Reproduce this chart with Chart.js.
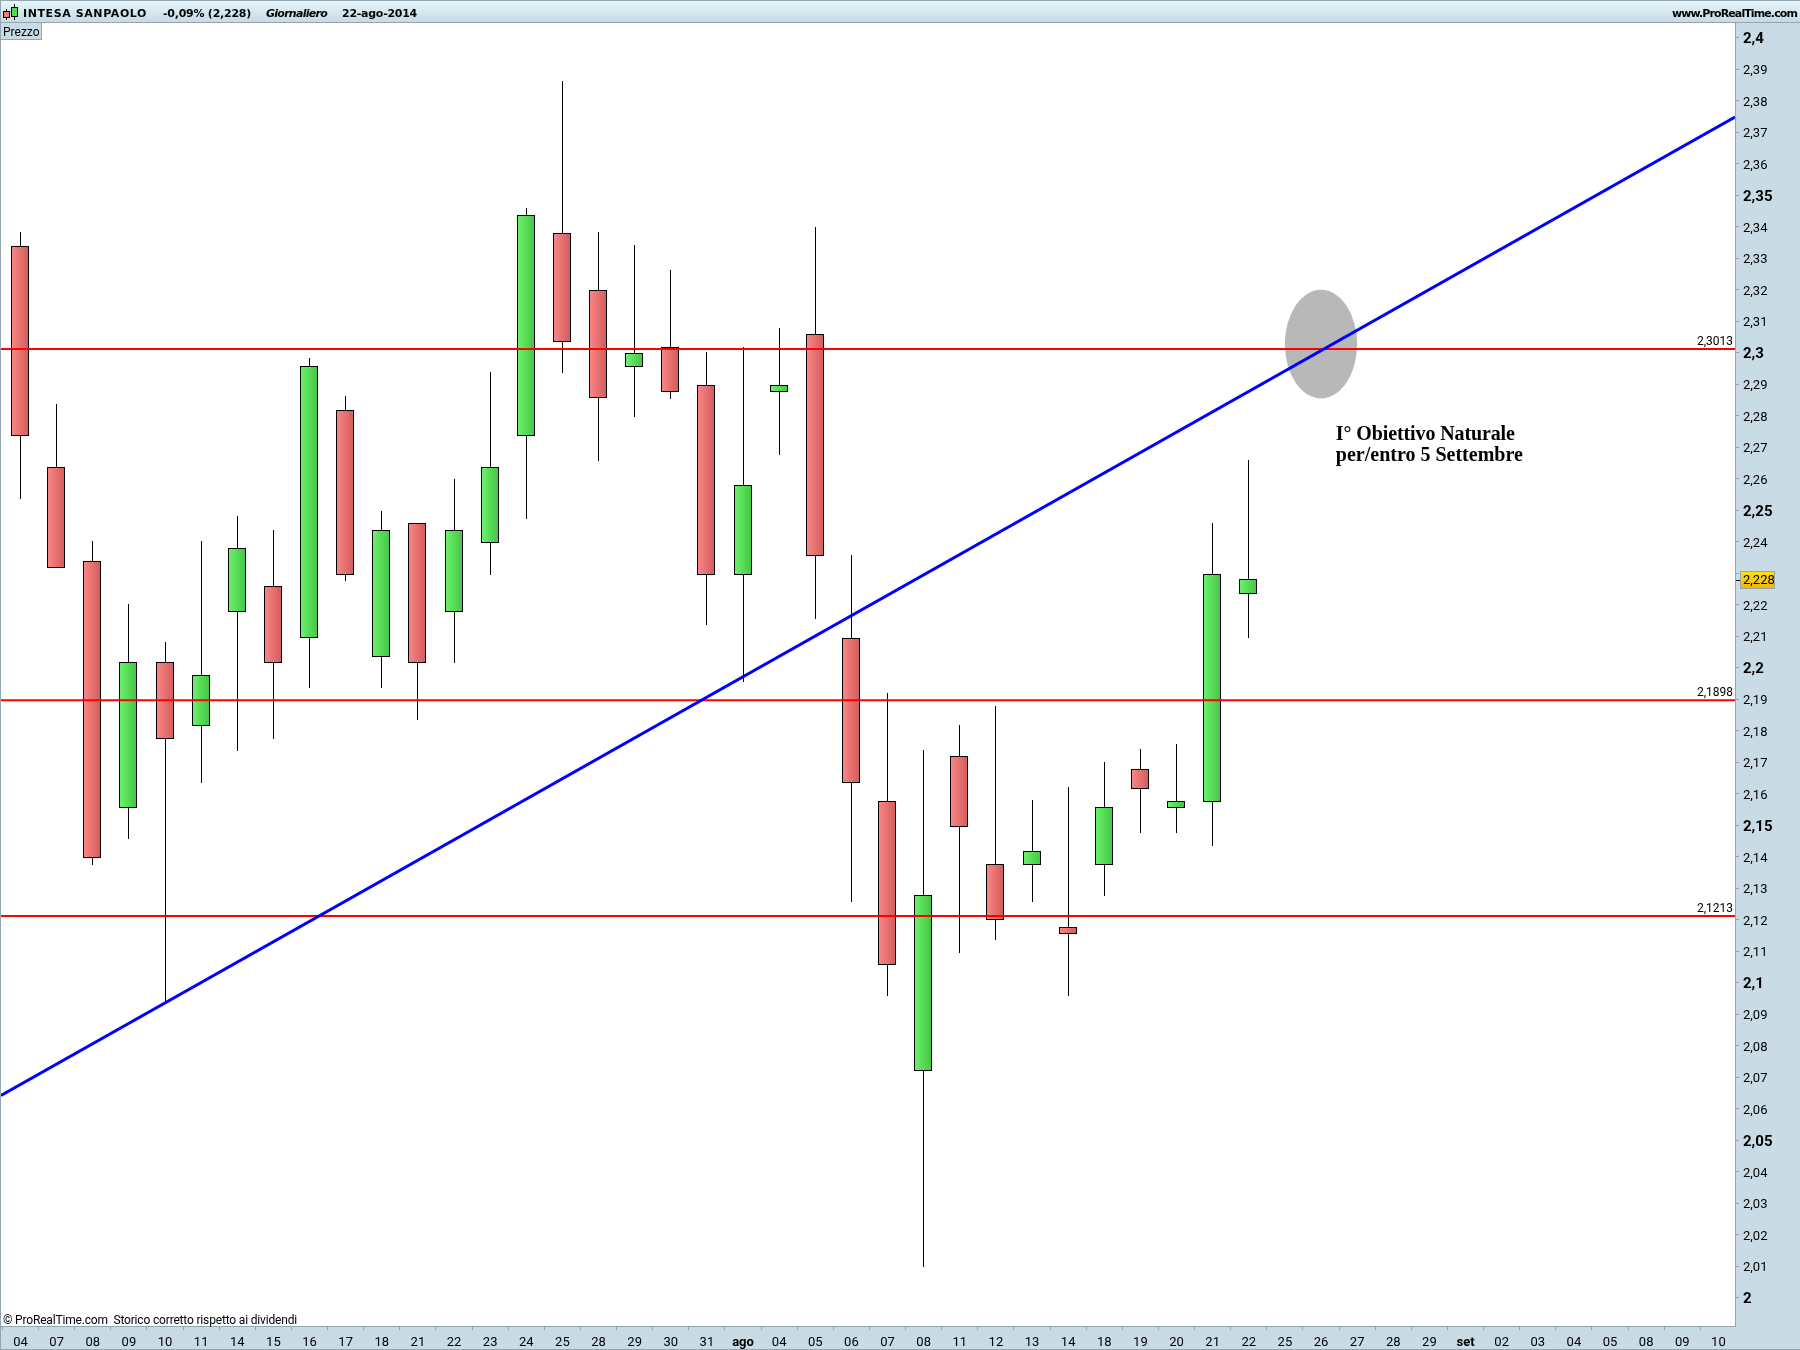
<!DOCTYPE html>
<html>
<head>
<meta charset="utf-8">
<title>INTESA SANPAOLO</title>
<script src="https://cdn.jsdelivr.net/npm/chart.js@4"></script>
<style>
  html, body { margin: 0; padding: 0; background: #fff; }
  canvas { display: block; }
</style>
</head>
<body>
<canvas id="price-chart" width="1800" height="1350"></canvas>
<script>
const dateLabels = ["04", "07", "08", "09", "10", "11", "14", "15", "16", "17", "18", "21", "22", "23", "24", "25", "28", "29", "30", "31", "ago", "04", "05", "06", "07", "08", "11", "12", "13", "14", "18", "19", "20", "21", "22", "25", "26", "27", "28", "29", "set", "02", "03", "04", "05", "08", "09", "10"];
const boldDates = ["ago", "set"];

const opens = [2.3339, 2.2637, 2.2338, 2.1557, 2.2017, 2.1818, 2.2179, 2.2258, 2.2098, 2.2817, 2.2036, 2.2459, 2.2178, 2.2397, 2.2738, 2.338, 2.3198, 2.2956, 2.3017, 2.2896, 2.2296, 2.2877, 2.3058, 2.2095, 2.1576, 2.0721, 2.1719, 2.1376, 2.1376, 2.1177, 2.1376, 2.1679, 2.1557, 2.1575, 2.2236];
const closes = [2.2738, 2.232, 2.1398, 2.2017, 2.1777, 2.1976, 2.238, 2.2017, 2.2958, 2.2297, 2.2436, 2.2017, 2.2436, 2.2636, 2.3437, 2.3036, 2.2859, 2.2999, 2.2877, 2.2296, 2.2579, 2.2896, 2.2356, 2.1636, 2.1059, 2.1279, 2.1497, 2.12, 2.1418, 2.1158, 2.1558, 2.1616, 2.1577, 2.2297, 2.228];
const highs = [2.3381, 2.2838, 2.2401, 2.22, 2.208, 2.2401, 2.248, 2.2438, 2.2981, 2.2861, 2.2498, 2.2459, 2.2599, 2.2939, 2.346, 2.3861, 2.3381, 2.334, 2.3261, 2.3, 2.3018, 2.3079, 2.3399, 2.2357, 2.192, 2.1739, 2.1819, 2.1879, 2.1578, 2.162, 2.1699, 2.174, 2.1758, 2.246, 2.2659];
const lows = [2.2538, 2.232, 2.1377, 2.146, 2.094, 2.1636, 2.1738, 2.1777, 2.1939, 2.2278, 2.1939, 2.1837, 2.2016, 2.2296, 2.2476, 2.2938, 2.2658, 2.2798, 2.2857, 2.2137, 2.1956, 2.2677, 2.2156, 2.1259, 2.0959, 2.0099, 2.1098, 2.1138, 2.1259, 2.0959, 2.1278, 2.1478, 2.1478, 2.1436, 2.2096];

const priceLabels = ["2,4", "2,39", "2,38", "2,37", "2,36", "2,35", "2,34", "2,33", "2,32", "2,31", "2,3", "2,29", "2,28", "2,27", "2,26", "2,25", "2,24", "2,23", "2,22", "2,21", "2,2", "2,19", "2,18", "2,17", "2,16", "2,15", "2,14", "2,13", "2,12", "2,11", "2,1", "2,09", "2,08", "2,07", "2,06", "2,05", "2,04", "2,03", "2,02", "2,01", "2"];
const boldPrices = ["2,4", "2,35", "2,3", "2,25", "2,2", "2,15", "2,1", "2,05", "2"];
const coveredPrice = "2,23"; // sits under the yellow last price box

const levels = [2.3013, 2.1898, 2.1213];
const levelLabels = ["2,3013", "2,1898", "2,1213"];
const lastPrice = 2.228;
const lastPriceLabel = "2,228";

const xMin = -0.5398;
const xMax = 47.46;
const yMin = 1.99111;
const yMax = 2.40476;
const trendX = [xMin, xMax];
const trendY = [2.0643, 2.3749];

const targetX = 36;
const targetY = 2.3028;
const targetRadiusX = 1;
const targetRadiusY = 0.01724;
const noteX = 36.41;
const noteY = [2.2724, 2.2657];
const noteLines = ["I° Obiettivo Naturale", "per/entro 5 Settembre"];
const noteWidths = [179, 187];

const panelColor = "#c9dbe5";
const edgeColor = "#94a5b0";
const tickFont = "Roboto";

function priceValue(label) {
  return parseFloat(label.replace(",", "."));
}

// draws text stretched or squeezed to the width it has in the reference
function fitText(ctx, text, x, y, targetWidth) {
  ctx.letterSpacing = "0px";
  const spare = targetWidth - ctx.measureText(text).width;
  ctx.letterSpacing = spare / text.length + "px";
  ctx.fillText(text, x, y);
  ctx.letterSpacing = "0px";
}

// body fill goes light to dark from left to right, same as the ProRealTime candles
function bodyFill(ctx) {
  const down = closes[ctx.dataIndex] < opens[ctx.dataIndex];
  if (ctx.type !== "data") return "#d25a5a";
  const px = Math.floor(ctx.chart.scales.x.getPixelForValue(ctx.dataIndex));
  if (!Number.isFinite(px)) return down ? "#e67070" : "#58dc58";
  const g = ctx.chart.ctx.createLinearGradient(px - 9, 0, px + 9, 0);
  g.addColorStop(0, down ? "#fc8888" : "#6ef46e");
  g.addColorStop(1, down ? "#d25a5a" : "#42c442");
  return g;
}

// whole pixel edges so wicks and borders stay one crisp pixel wide
const snapBars = {
  id: "snapBars",
  afterDatasetsUpdate(chart) {
    chart.data.datasets.forEach((ds, d) => {
      if (ds.type !== "bar") return;
      chart.getDatasetMeta(d).data.forEach((bar) => {
        const top = Math.floor(Math.min(bar.y, bar.base));
        const bottom = Math.ceil(Math.max(bar.y, bar.base));
        bar.x = ds.label === "wicks" ? Math.floor(bar.x) + 0.5 : Math.floor(bar.x);
        bar.y = top;
        bar.base = bottom;
      });
    });
  },
};

const frame = {
  id: "frame",
  beforeDraw(chart) {
    const { ctx, chartArea: a, width, height } = chart;
    ctx.save();
    ctx.fillStyle = panelColor;
    ctx.fillRect(a.right, 0, width - a.right, height);
    ctx.fillRect(0, a.bottom, width, height - a.bottom);
    ctx.fillStyle = "#fff";
    ctx.fillRect(a.left, a.top, a.right - a.left, a.bottom - a.top);

    const head = ctx.createLinearGradient(0, 0, 0, 22);
    head.addColorStop(0, "#e8f8fd");
    head.addColorStop(1, "#c6dae4");
    ctx.fillStyle = head;
    ctx.fillRect(0, 0, width, 22);

    ctx.fillStyle = edgeColor;
    ctx.fillRect(0, 0, width, 1);
    ctx.fillRect(0, 22, width, 1);
    ctx.fillRect(0, 0, 1, height);
    ctx.fillRect(a.right, 22, 1, a.bottom - 22);
    ctx.fillRect(0, a.bottom, a.right + 1, 1);
    ctx.fillRect(0, height - 1, width, 1);
    ctx.restore();
  },
  afterDraw(chart) {
    const { ctx, scales } = chart;
    ctx.save();

    // small candle icon in the title bar
    ctx.strokeStyle = "#000";
    ctx.lineWidth = 1;
    ctx.fillStyle = "#f47a7a";
    ctx.fillRect(3.5, 11.5, 6, 6);
    ctx.strokeRect(3.5, 11.5, 6, 6);
    ctx.fillStyle = "#52dc52";
    ctx.fillRect(11.5, 7.5, 6, 9);
    ctx.strokeRect(11.5, 7.5, 6, 9);
    ctx.beginPath();
    ctx.moveTo(6.5, 9); ctx.lineTo(6.5, 11);
    ctx.moveTo(6.5, 18); ctx.lineTo(6.5, 20);
    ctx.moveTo(14.5, 4); ctx.lineTo(14.5, 7);
    ctx.moveTo(14.5, 17); ctx.lineTo(14.5, 20);
    ctx.stroke();

    ctx.fillStyle = "#000";
    ctx.textBaseline = "alphabetic";
    ctx.textAlign = "left";
    ctx.font = "bold 11px 'DejaVu Sans'";
    fitText(ctx, "INTESA SANPAOLO", 23, 17, 124);
    fitText(ctx, "-0,09% (2,228)", 163, 17, 88);
    fitText(ctx, "22-ago-2014", 342, 17, 75);
    fitText(ctx, "www.ProRealTime.com", 1672, 17, 125);
    ctx.font = "italic bold 11px 'DejaVu Sans'";
    fitText(ctx, "Giornaliero", 266, 17, 61);

    // Prezzo tab
    ctx.fillStyle = panelColor;
    ctx.fillRect(1, 23, 40, 16);
    ctx.fillStyle = edgeColor;
    ctx.fillRect(1, 39, 41, 1);
    ctx.fillRect(41, 23, 1, 16);
    ctx.fillStyle = "#000";
    ctx.font = "12px " + tickFont;
    ctx.fillText("Prezzo", 3, 36);

    fitText(ctx, "© ProRealTime.com  Storico corretto rispetto ai dividendi", 3, 1324, 294);

    // last price box on the axis
    const py = Math.round(scales.y.getPixelForValue(lastPrice));
    const box = ctx.createLinearGradient(0, py - 9, 0, py + 9);
    box.addColorStop(0, "#ffe21a");
    box.addColorStop(1, "#f0b400");
    ctx.fillStyle = "#000";
    ctx.fillRect(1736, py, 4, 1);
    ctx.fillStyle = box;
    ctx.fillRect(1740, py - 9, 35, 18);
    ctx.strokeStyle = edgeColor;
    ctx.strokeRect(1740.5, py - 8.5, 34, 17);
    ctx.fillStyle = "#000";
    ctx.font = "13px " + tickFont;
    ctx.textBaseline = "middle";
    ctx.fillText(lastPriceLabel, 1743, py + 1);
    ctx.restore();
  },
};

const chartNotes = {
  id: "chartNotes",
  beforeDatasetsDraw(chart) {
    const { ctx, scales } = chart;
    const cx = scales.x.getPixelForValue(targetX);
    const cy = scales.y.getPixelForValue(targetY);
    const rx = scales.x.getPixelForValue(targetX + targetRadiusX) - cx;
    const ry = cy - scales.y.getPixelForValue(targetY + targetRadiusY);
    ctx.save();
    ctx.fillStyle = "#b8b8b8";
    ctx.beginPath();
    ctx.ellipse(cx, cy, rx, ry, 0, 0, Math.PI * 2);
    ctx.fill();
    ctx.restore();
  },
  afterDatasetsDraw(chart) {
    const { ctx, chartArea, scales } = chart;
    ctx.save();
    ctx.fillStyle = "#000";
    ctx.textAlign = "right";
    ctx.font = "12px " + tickFont;
    levels.forEach((level, i) => {
      ctx.fillText(levelLabels[i], chartArea.right - 2, scales.y.getPixelForValue(level) - 4);
    });
    ctx.textAlign = "left";
    ctx.font = "bold 20px 'Liberation Serif'";
    noteLines.forEach((line, i) => {
      fitText(ctx, line, scales.x.getPixelForValue(noteX), scales.y.getPixelForValue(noteY[i]), noteWidths[i]);
    });
    ctx.restore();
  },
};

const levelDatasets = levels.map((level, i) => ({
  type: "line",
  label: "level " + levelLabels[i],
  data: [{ x: xMin, y: level }, { x: xMax, y: level }],
  borderColor: "#ff0000",
  borderWidth: 2,
  pointRadius: 0,
  order: 2,
}));

new Chart(document.getElementById("price-chart"), {
  type: "bar",
  data: {
    datasets: [
      {
        type: "bar",
        label: "wicks",
        data: highs.map((h, i) => ({ x: i, y: [lows[i], h] })),
        backgroundColor: "#000",
        borderWidth: 0,
        barThickness: 1,
        inflateAmount: 0,
        grouped: false,
        order: 4,
      },
      {
        type: "bar",
        label: "bodies",
        data: opens.map((o, i) => ({ x: i, y: [o, closes[i]] })),
        backgroundColor: bodyFill,
        borderColor: "#000",
        borderWidth: 1,
        borderSkipped: false,
        inflateAmount: 0,
        barThickness: 18,
        grouped: false,
        order: 3,
      },
      ...levelDatasets,
      {
        type: "line",
        label: "trend",
        data: trendX.map((x, i) => ({ x: x, y: trendY[i] })),
        borderColor: "#0000ff",
        borderWidth: 3,
        pointRadius: 0,
        order: 1,
      },
    ],
  },
  options: {
    responsive: false,
    animation: false,
    devicePixelRatio: 1,
    layout: { padding: { left: 1, top: 23, right: 0, bottom: 0 } },
    plugins: {
      legend: { display: false },
      tooltip: { enabled: false },
    },
    scales: {
      x: {
        type: "linear",
        offset: false,
        min: xMin,
        max: xMax,
        afterBuildTicks: (axis) => {
          axis.ticks = dateLabels.map((_, i) => ({ value: i }));
        },
        afterFit: (axis) => {
          axis.height = 24;
        },
        grid: { drawOnChartArea: false, tickLength: 4, color: edgeColor },
        border: { display: false },
        ticks: {
          autoSkip: false,
          maxRotation: 0,
          padding: 5,
          color: "#000",
          callback: (value) => dateLabels[value],
          font: (ctx) => ({
            family: tickFont,
            size: 13,
            weight: boldDates.includes(dateLabels[ctx.index]) ? "bold" : "normal",
          }),
        },
      },
      y: {
        position: "right",
        min: yMin,
        max: yMax,
        afterBuildTicks: (axis) => {
          axis.ticks = priceLabels.map((label) => ({ value: priceValue(label) }));
        },
        afterFit: (axis) => {
          axis.width = 65;
        },
        grid: { drawOnChartArea: false, tickLength: 4, color: edgeColor },
        border: { display: false },
        ticks: {
          autoSkip: false,
          padding: 4,
          labelOffset: 1.5,
          color: "#000",
          callback: (value, i) => (priceLabels[i] === coveredPrice ? "" : priceLabels[i]),
          font: (ctx) => {
            const bold = boldPrices.includes(priceLabels[ctx.index]);
            return { family: tickFont, size: bold ? 15 : 13, weight: bold ? "bold" : "normal" };
          },
        },
      },
    },
  },
  plugins: [snapBars, frame, chartNotes],
});
</script>
</body>
</html>
